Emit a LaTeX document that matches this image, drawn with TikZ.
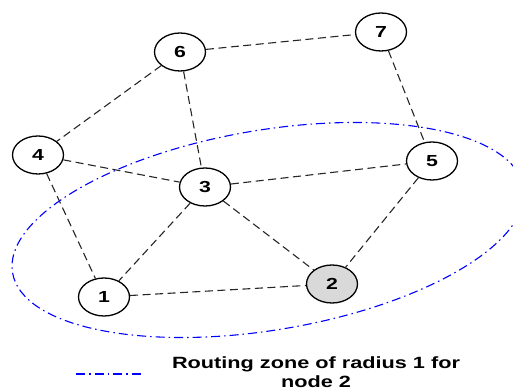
\documentclass[tikz,border=0pt]{standalone}
\usepackage{fontspec}
\newfontfamily\labfont[FakeStretch=1.33]{Liberation Sans}
\usetikzlibrary{shapes.geometric}
\begin{document}
\begin{tikzpicture}[x=1pt,y=1pt,
  nd/.style={draw=black, line width=1.3pt, ellipse, fill=white,
    minimum width=51pt, minimum height=38pt, inner sep=0pt,
    font=\labfont\bfseries\fontsize{16}{18}\selectfont},
  lk/.style={draw=black!85, line width=1.1pt, dash pattern=on 8pt off 4.5pt},
  zone/.style={draw=blue, line width=1.1pt, dash pattern=on 9pt off 4pt on 1.5pt off 4pt},
  lab/.style={font=\labfont\bfseries\fontsize{16.3}{19}\selectfont, align=center}]
\useasboundingbox (0,0) rectangle (513,390);
% routing zone
\draw[zone, rotate around={9.5:(268,160)}] (268,160) ellipse [x radius=259pt, y radius=100pt];
% nodes
\node[nd] (n6) at (180,338) {6};
\node[nd] (n7) at (381,358) {7};
\node[nd] (n4) at (38,235) {4};
\node[nd] (n5) at (432,229) {5};
\node[nd] (n3) at (205,203) {3};
\node[nd] (n1) at (104,93) {1};
\node[nd, fill=black!15] (n2) at (332,106) {2};
% links
\draw[lk] (n6) -- (n7);
\draw[lk] (n6) -- (n4);
\draw[lk] (n6) -- (n3);
\draw[lk] (n7) -- (n5);
\draw[lk] (n4) -- (n3);
\draw[lk] (n4) -- (n1);
\draw[lk] (n3) -- (n5);
\draw[lk] (n3) -- (n1);
\draw[lk] (n3) -- (n2);
\draw[lk] (n5) -- (n2);
\draw[lk] (n1) -- (n2);
% legend
\coordinate (la) at (76,16);
\coordinate (lb) at (142,16);
\draw[zone] (la) -- (lb);
\node[lab] (legend) at (316,18) {Routing zone of radius 1 for\\node 2};
\end{tikzpicture}
\end{document}
